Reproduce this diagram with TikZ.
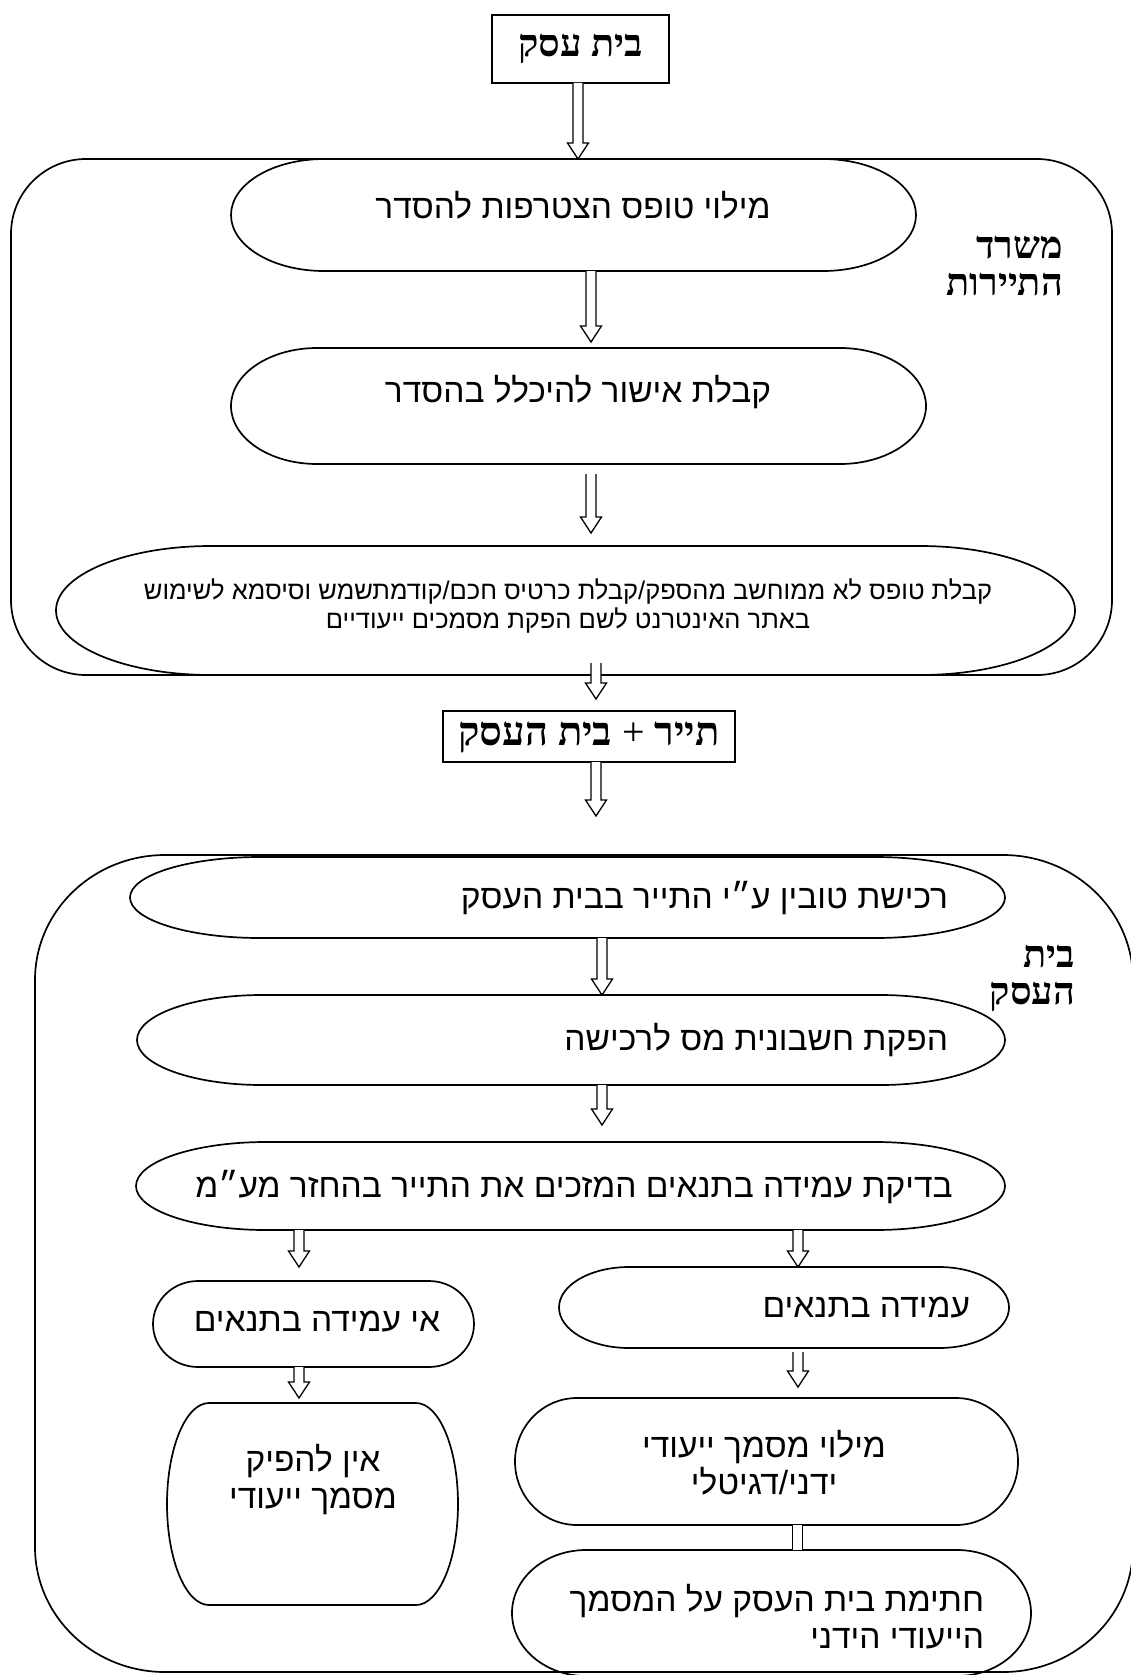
\documentclass[tikz,border=0pt]{standalone}
\usepackage{fontspec}
\TeXXeTstate=1
\newfontfamily\hs[Script=Hebrew]{Liberation Sans}
\newfontfamily\hr[Script=Hebrew]{Liberation Serif}
\usetikzlibrary{calc}
\tikzset{
  shp/.style={draw, line width=1.7pt},
  rbox/.style={draw, line width=2pt, inner sep=0pt, outer sep=0pt},
  arr/.style={draw, fill=white, line width=1.3pt, line join=miter},
  txt/.style={inner sep=0pt, outer sep=0pt, font=\hs\fontsize{33.5}{37}\selectfont},
  stxt/.style={inner sep=0pt, outer sep=0pt, font=\hs\fontsize{25.5}{29}\selectfont},
  btxt/.style={inner sep=0pt, outer sep=0pt, font=\hr\bfseries\fontsize{38}{37}\selectfont},
}
\newcommand\eshape[7]{%
  \node[inner sep=0pt,outer sep=0pt,minimum width=#4pt,minimum height=#5pt] (#1) at (#2,-#3) {};
  \draw[shp] ([xshift=#6pt]#1.north west) -- ([xshift=-#6pt]#1.north east)
    arc[start angle=90,end angle=0,x radius=#6pt,y radius=#7pt]
    -- ([yshift=#7pt]#1.south east)
    arc[start angle=0,end angle=-90,x radius=#6pt,y radius=#7pt]
    -- ([xshift=#6pt]#1.south west)
    arc[start angle=270,end angle=180,x radius=#6pt,y radius=#7pt]
    -- ([yshift=-#7pt]#1.north west)
    arc[start angle=180,end angle=90,x radius=#6pt,y radius=#7pt] -- cycle;
}
\newcommand\harrow[2]{%
  \path #1 coordinate (hA);
  \path #2 coordinate (hB);
  \draw[arr] let \p1=(hA), \p2=(hB) in
    (\x1-5pt,\y1) -- (\x1-5pt,\y2+16pt) -- (\x1-10.5pt,\y2+16pt) -- (\x1,\y2)
    -- (\x1+10.5pt,\y2+16pt) -- (\x1+5pt,\y2+16pt) -- (\x1+5pt,\y1);
}
\begin{document}
\begin{tikzpicture}[x=1pt,y=1pt]
\useasboundingbox[fill=white] (0,0) rectangle (1130,-1675);

% containers
\eshape{c1}{561.5}{417}{1101}{516}{75}{75}
\eshape{c2}{584}{1263.5}{1098}{817}{130}{125}

% top boxes
\node[rbox, minimum width=177pt, minimum height=68pt] (top) at (580.5,-49) {};
\node[btxt] (topT) at (580.5,-49) {\beginR בית עסק\endR};
\node[rbox, minimum width=292pt, minimum height=51pt] (box2) at (589,-736.5) {};
\node[btxt, font=\hr\bfseries\fontsize{40}{40}\selectfont] (box2T) at (589,-738) {\beginR{\bfseries תייר} {\mdseries +} {\bfseries בית העסק}\endR};

% shapes
\eshape{e1}{573.5}{215}{685}{112}{93}{56}
\eshape{e2}{578.5}{406}{695}{116}{86}{58}
\eshape{e3}{565.5}{610.5}{1019}{129}{155}{64.5}
\eshape{eA}{567.5}{897.5}{875}{81}{130}{40.5}
\eshape{eB}{571}{1040}{868}{90}{125}{45}
\eshape{eC}{570.5}{1186}{869}{88}{130}{44}
\eshape{ok}{784}{1307.5}{450}{81}{70}{40.5}
\eshape{notok}{313.5}{1324}{321}{86}{45}{43}
\eshape{no}{312.5}{1504}{291}{202}{42}{101}
\eshape{fill}{766.5}{1461.5}{503}{127}{62}{63.5}
\eshape{sign}{771.5}{1613}{519}{126}{74}{63}

% arrows
\harrow{([xshift=-2.5pt]top.south)}{(c1.north)}
\harrow{([xshift=17.5pt]e1.south)}{([yshift=6pt]e2.north)}
\harrow{([xshift=12.5pt,yshift=-10pt]e2.south)}{([yshift=13pt]e3.north)}
\harrow{([xshift=30.5pt,yshift=12pt]e3.south)}{([yshift=12pt]box2.north)}
\harrow{([xshift=7pt]box2.south)}{([yshift=41pt]eA.north)}
\harrow{([xshift=34.5pt]eA.south)}{(eB.north)}
\harrow{([xshift=31pt]eB.south)}{([yshift=17pt]eC.north)}
\harrow{([xshift=227.5pt]eC.south)}{(ok.north)}
\harrow{([xshift=-271.5pt]eC.south)}{([yshift=14pt]notok.north)}
\harrow{([xshift=-14.5pt]notok.south)}{([yshift=5pt]no.north)}
\harrow{([xshift=14pt,yshift=-4pt]ok.south)}{([yshift=11pt]fill.north)}
\path ([xshift=26pt]fill.south) coordinate (cA) ([xshift=36pt]fill.south |- sign.north) coordinate (cB);
\fill[white] (cA) rectangle (cB);
\draw[line width=1.3pt] (cA) -- (cA |- cB) (cB |- cA) -- (cB);

% texts
\node[txt] (e1T) at (573,-205) {\beginR מילוי טופס הצטרפות להסדר\endR};
\node[txt] (e2T) at (578,-392) {\beginR קבלת אישור להיכלל בהסדר\endR};
\node[stxt, align=center] (e3T) at (568,-606) {\beginR קבלת טופס לא ממוחשב מהספק/קבלת כרטיס חכם/קודמתשמש וסיסמא לשימוש\endR\\ \beginR באתר האינטרנט לשם הפקת מסמכים ייעודיים\endR};
\node[btxt, align=right, anchor=east] (lab1) at (1063,-266.5) {\beginR משרד\endR\\ \beginR התיירות\endR};
\node[btxt, align=right, anchor=east] (lab2) at (1075,-978.5) {\beginR בית\endR\\ \beginR העסק\endR};
\node[txt, anchor=east] (eAT) at (948,-898) {\beginR רכישת טובין ע״י התייר בבית העסק\endR};
\node[txt, anchor=east] (eBT) at (948,-1040) {\beginR הפקת חשבונית מס לרכישה\endR};
\node[txt] (eCT) at (574,-1187) {\beginR בדיקת עמידה בתנאים המזכים את התייר בהחזר מע״מ\endR};
\node[txt, anchor=east] (okT) at (970,-1308) {\beginR עמידה בתנאים\endR};
\node[txt] (notokT) at (317,-1322) {\beginR אי עמידה בתנאים\endR};
\node[txt, align=center] (noT) at (313,-1480) {\beginR אין להפיק\endR\\ \beginR מסמך ייעודי\endR};
\node[txt, align=center] (fillT) at (764,-1463) {\beginR מילוי מסמך ייעודי\endR\\ \beginR ידני/דגיטלי\endR};
\node[txt, align=right, anchor=east] (signT) at (984,-1617) {\beginR חתימת בית העסק על המסמך\endR\\ \beginR הייעודי הידני\endR};
\end{tikzpicture}
\end{document}
